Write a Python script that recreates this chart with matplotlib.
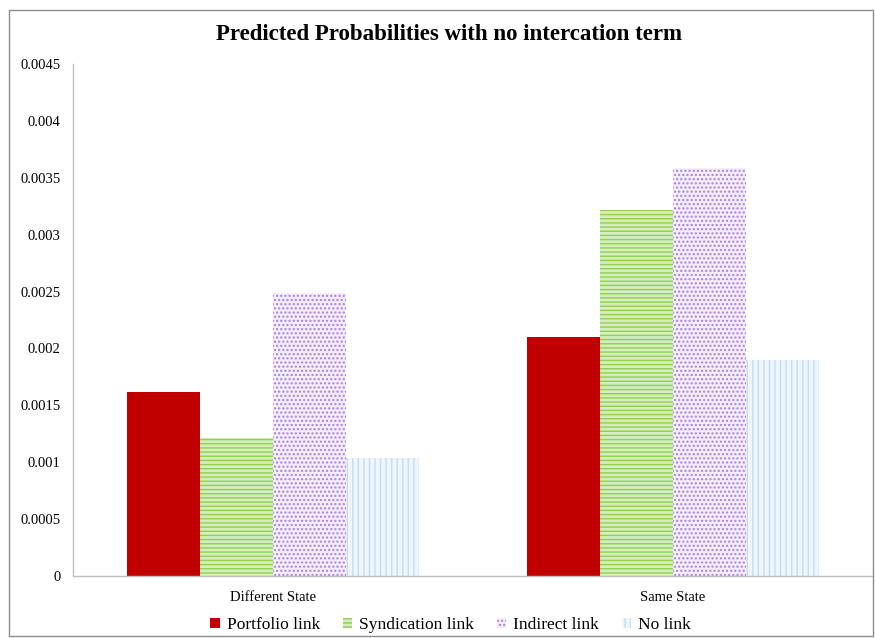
import matplotlib
matplotlib.use("Agg")
import matplotlib.pyplot as plt
from matplotlib.patches import Rectangle
import numpy as np

categories = ["Different State", "Same State"]
series_names = ["Portfolio link", "Syndication link", "Indirect link", "No link"]
portfolio = [0.00162, 0.00210]
syndication = [0.00121, 0.00322]
indirect = [0.00249, 0.00359]
no_link = [0.00104, 0.00190]
y_ticks = [0, 0.0005, 0.001, 0.0015, 0.002, 0.0025, 0.003, 0.0035, 0.004, 0.0045]
y_tick_labels = ["0", "0.0005", "0.001", "0.0015", "0.002", "0.0025", "0.003", "0.0035", "0.004", "0.0045"]

plt.rcParams["font.family"] = ["Liberation Serif", "DejaVu Serif"]
plt.rcParams["hatch.linewidth"] = 1.0

fig = plt.figure(figsize=(8.75, 6.38), dpi=100)
ax = fig.add_axes([0.0834, 0.0972, 0.914, 0.8025])

styles = [
    dict(facecolor="#c00000", edgecolor="#c00000", hatch=None),
    dict(facecolor="#d6edbd", edgecolor="#8fd14f", hatch="----"),
    dict(facecolor="#f4ecfb", edgecolor="#a77fdb", hatch="...."),
    dict(facecolor="#eef5fc", edgecolor="#c4ddf3", hatch="|||"),
]
values = [portfolio, syndication, indirect, no_link]
x = np.arange(len(categories))
w = 0.1825
handles = []
for i, (vals, st) in enumerate(zip(values, styles)):
    offs = (i - 1.5) * w
    bars = ax.bar(x + offs, vals, width=w, facecolor=st["facecolor"],
                  edgecolor=st["edgecolor"] if st["hatch"] else st["facecolor"],
                  hatch=st["hatch"], linewidth=0, label=series_names[i])
    handles.append(bars)

ax.set_xlim(-0.5, 1.5)
ax.set_ylim(0, 0.0045)
ax.set_yticks(y_ticks)
ax.set_yticklabels(y_tick_labels, fontsize=10.5)
ax.set_xticks(x)
ax.set_xticklabels(categories, fontsize=10.5)
ax.tick_params(axis="y", length=0, pad=9)
ax.tick_params(axis="x", length=0, pad=11)
for s in ["top", "right"]:
    ax.spines[s].set_visible(False)
for s in ["left", "bottom"]:
    ax.spines[s].set_color("#bfbfbf")
    ax.spines[s].set_linewidth(1.0)

fig.text(0.513, 0.946, "Predicted Probabilities with no intercation term",
         ha="center", va="center", fontsize=16.5, fontweight="bold")

leg = fig.legend(handles=handles, labels=series_names, loc="center",
                 bbox_to_anchor=(0.515, 0.02), ncol=4, frameon=False,
                 fontsize=12.5, handlelength=0.55, handleheight=0.55,
                 handletextpad=0.4, columnspacing=1.3)

fig.patches.append(Rectangle((0.0103, 0.003), 0.987, 0.981, transform=fig.transFigure,
                             fill=False, edgecolor="#8c8c8c", linewidth=1.0))

fig.savefig("out.png", dpi=100, facecolor="white")
